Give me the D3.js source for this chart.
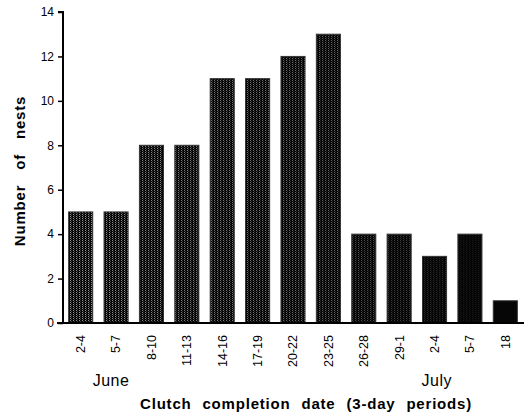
<!DOCTYPE html>
<html><head><meta charset="utf-8">
<script src="https://cdn.jsdelivr.net/npm/d3@7"></script>
<style>body{margin:0;background:#fff}svg{display:block}</style>
</head><body>
<script>
const categories = ["2-4","5-7","8-10","11-13","14-16","17-19","20-22","23-25","26-28","29-1","2-4 ","5-7 ","18"];
const values = [5,5,8,8,11,11,12,13,4,4,3,4,1];
const yTicks = [0,2,4,6,8,10,12,14];
const months = [{label:"June", at:"2-4"},{label:"July", at:"2-4 "}];

const W=526,H=415;
const svg=d3.select("body").append("svg").attr("width",W).attr("height",H);
const font="Liberation Sans, Arial, Helvetica, sans-serif";

const x=d3.scaleBand().domain(categories).range([63,523]).paddingInner(0.32).paddingOuter(0.16);
const y=d3.scaleLinear().domain([0,14]).range([323,12]);

// textured fills (stipple), darker toward the right
const defs=svg.append("defs");
const dens=d3.scaleLinear().domain([0,7,8,categories.length-1]).range([0.7,0.45,0.35,0.02]);
categories.forEach((c,i)=>{
  const p=defs.append("pattern").attr("id","p"+i).attr("patternUnits","userSpaceOnUse")
    .attr("width",3).attr("height",2);
  p.append("rect").attr("width",3).attr("height",2).attr("fill","#050505");
  p.append("rect").attr("x",1).attr("y",0).attr("width",1).attr("height",1)
    .attr("fill","#d0d0d0").attr("opacity",dens(i));
  p.append("rect").attr("x",2).attr("y",1).attr("width",1).attr("height",1)
    .attr("fill","#a0a0a0").attr("opacity",dens(i)*0.5);
});

svg.append("g").selectAll("rect").data(values).join("rect")
  .attr("x",(d,i)=>x(categories[i]))
  .attr("y",d=>y(d))
  .attr("width",x.bandwidth())
  .attr("height",d=>y(0)-y(d))
  .attr("fill",(d,i)=>`url(#p${i})`)
  .attr("stroke","#333").attr("stroke-width",1);

// y axis
const ya=svg.append("g").attr("transform","translate(63,0)")
  .call(d3.axisLeft(y).tickValues(yTicks).tickSize(5).tickPadding(4));
ya.select(".domain").attr("stroke","#000").attr("stroke-width",2).attr("d",`M-5,${y(14)}H0V${y(0)}`);
ya.selectAll(".tick line").attr("stroke","#000").attr("stroke-width",1.5);
ya.selectAll("text").attr("font-family",font).attr("font-size",12).attr("fill","#000");

// x axis
const xa=svg.append("g").attr("transform",`translate(0,${y(0)})`)
  .call(d3.axisBottom(x).tickSize(0).tickPadding(0));
xa.select(".domain").attr("stroke","#000").attr("stroke-width",2).attr("d",`M57,0H524`);
xa.selectAll(".tick text").attr("font-family",font).attr("font-size",12.5).attr("fill","#000")
  .attr("text-anchor","end").attr("dy","0.35em")
  .attr("transform","translate(0,12) rotate(-90)").attr("x",0).attr("y",0);

// month labels
svg.append("g").selectAll("text").data(months).join("text")
  .attr("x",(d,i)=> i===0 ? x(d.at)+24 : x(d.at)-1)
  .attr("y",386)
  .attr("font-family",font).attr("font-size",16).attr("letter-spacing","0.5px").attr("fill","#000")
  .text(d=>d.label);

// axis titles
svg.append("text").attr("x",306).attr("y",409).attr("text-anchor","middle")
  .attr("font-family",font).attr("font-size",15).attr("font-weight","bold")
  .attr("letter-spacing","0.8px").attr("word-spacing","6px")
  .text("Clutch completion date (3-day periods)");
svg.append("text").attr("transform","translate(25,171) rotate(-90)").attr("text-anchor","middle")
  .attr("font-family",font).attr("font-size",15).attr("font-weight","bold")
  .attr("letter-spacing","0.8px").attr("word-spacing","10px").text("Number of nests");
</script>
</body></html>
